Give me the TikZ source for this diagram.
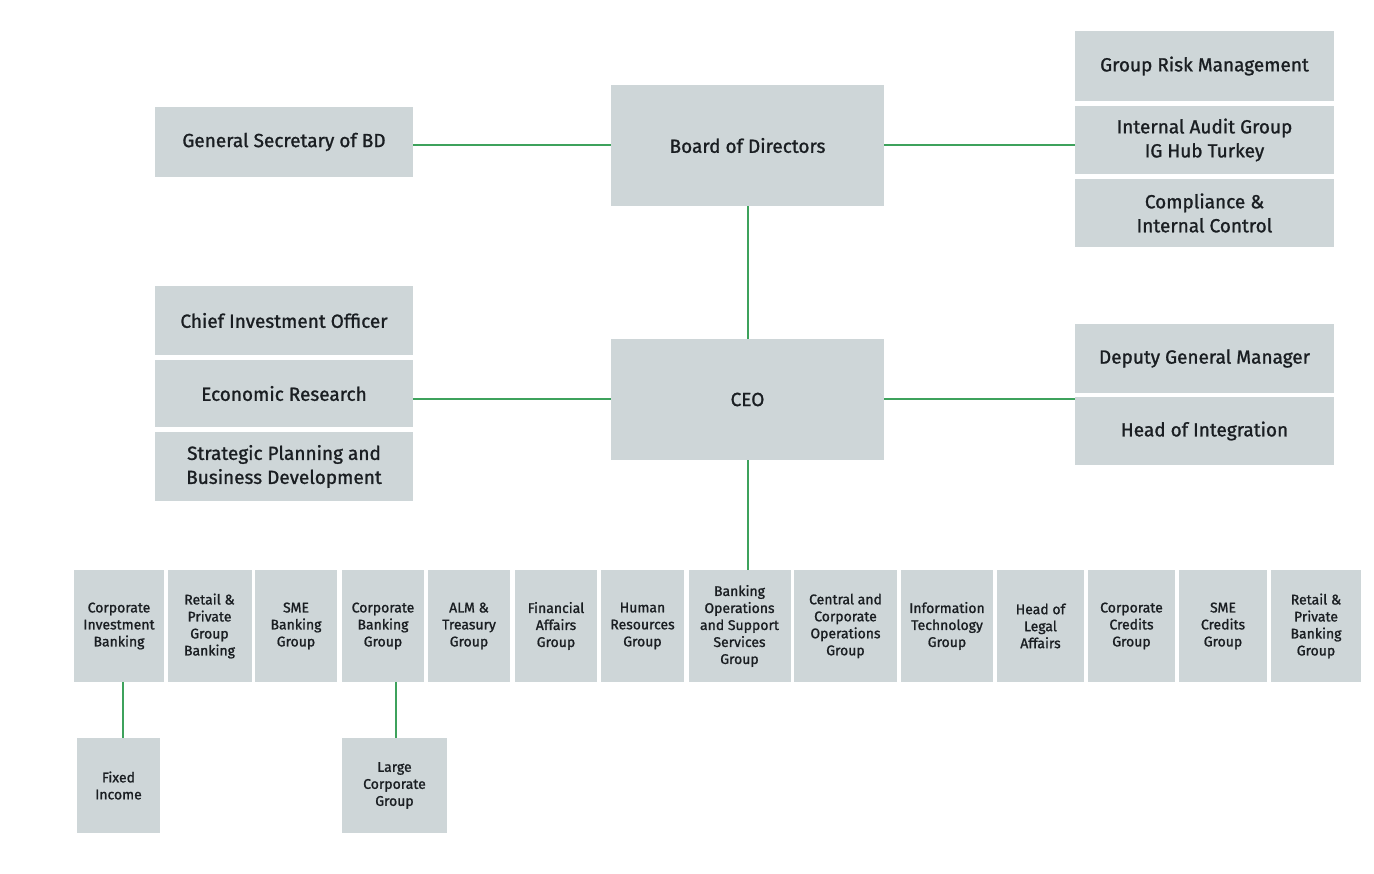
\documentclass[tikz,border=0pt]{standalone}
\usepackage{fontspec}
\setmainfont{Fira Sans}[UprightFeatures={FakeBold=1.2}]
\usepackage{tikz}

\definecolor{boxgrey}{RGB}{206,214,216}
\definecolor{linkgreen}{RGB}{62,162,92}
\definecolor{textdark}{RGB}{26,30,34}

\tikzset{
  unit/.style={fill=boxgrey, text=textdark, align=center, inner sep=0pt, font=\fontsize{19}{24}\selectfont},
  smallunit/.style={fill=boxgrey, text=textdark, align=center, inner sep=0pt, font=\fontsize{14}{17}\selectfont},
  link/.style={draw=linkgreen, line width=2pt}
}

\begin{document}
\begin{tikzpicture}[x=1pt,y=1pt,yscale=-1,xscale=1]
\useasboundingbox (0,0) rectangle (1374,874);

%Top level
\node [unit, minimum width=273, minimum height=121] (bod) at (747.5,145.5) {Board of Directors};
\node [unit, minimum width=258, minimum height=70] (gensec) at (284,142) {General Secretary of BD};
\node [unit, minimum width=259, minimum height=70] (risk) at (1204.5,66) {Group Risk Management};
\node [unit, minimum width=259, minimum height=68] (audit) at (1204.5,140) {Internal Audit Group\\IG Hub Turkey};
\node [unit, minimum width=259, minimum height=68] (compl) at (1204.5,213) {Compliance \&\\Internal Control};

%CEO level
\node [unit, minimum width=273, minimum height=121] (ceo) at (747.5,399.5) {CEO};
\node [unit, minimum width=258, minimum height=69] (cio) at (284,320.5) {Chief Investment Officer};
\node [unit, minimum width=258, minimum height=67] (econ) at (284,393.5) {Economic Research};
\node [unit, minimum width=258, minimum height=69] (strat) at (284,466.5) {Strategic Planning and\\Business Development};
\node [unit, minimum width=259, minimum height=69] (deputy) at (1204.5,358.5) {Deputy General Manager};
\node [unit, minimum width=259, minimum height=68] (integr) at (1204.5,431) {Head of Integration};

%Groups
\node [smallunit, minimum width=90, minimum height=112] (cib) at (119,626) {Corporate\\Investment\\Banking};
\node [smallunit, minimum width=84, minimum height=112] (rpgb) at (209.5,626) {Retail \&\\Private\\Group\\Banking};
\node [smallunit, minimum width=82, minimum height=112] (smebg) at (296,626) {SME\\Banking\\Group};
\node [smallunit, minimum width=82, minimum height=112] (cbg) at (383,626) {Corporate\\Banking\\Group};
\node [smallunit, minimum width=82, minimum height=112] (alm) at (469,626) {ALM \&\\Treasury\\Group};
\node [smallunit, minimum width=82, minimum height=112] (fin) at (556,626) {Financial\\Affairs\\Group};
\node [smallunit, minimum width=83, minimum height=112] (hr) at (642.5,626) {Human\\Resources\\Group};
\node [smallunit, minimum width=102, minimum height=112] (bankops) at (739.5,626) {Banking\\Operations\\and Support\\Services\\Group};
\node [smallunit, minimum width=103, minimum height=112] (central) at (845.5,626) {Central and\\Corporate\\Operations\\Group};
\node [smallunit, minimum width=92, minimum height=112] (it) at (947,626) {Information\\Technology\\Group};
\node [smallunit, minimum width=87, minimum height=112] (legal) at (1040.5,626) {Head of\\Legal\\Affairs};
\node [smallunit, minimum width=87, minimum height=112] (ccg) at (1131.5,626) {Corporate\\Credits\\Group};
\node [smallunit, minimum width=88, minimum height=112] (smecg) at (1223,626) {SME\\Credits\\Group};
\node [smallunit, minimum width=90, minimum height=112] (rpbg) at (1316,626) {Retail \&\\Private\\Banking\\Group};

%Sub groups
\node [smallunit, minimum width=83, minimum height=95] (fixed) at (118.5,785.5) {Fixed\\Income};
\node [smallunit, minimum width=105, minimum height=95] (lcg) at (394.5,785.5) {Large\\Corporate\\Group};

%Straight Lines
\draw [link] (bod.west) -- (bod.west -| gensec.east);
\draw [link] (bod.east) -- (bod.east -| audit.west);
\draw [link] (bod.south) -- (ceo.north);
\draw [link] (ceo.west) -- (ceo.west -| econ.east);
\draw [link] (ceo.east) -- (ceo.east -| deputy.west);
\draw [link] (ceo.south) -- (ceo.south |- bankops.north);
\draw [link] (fixed.north -| 123,0) -- (cib.south -| 123,0);
\draw [link] (lcg.north -| 396,0) -- (cbg.south -| 396,0);

\end{tikzpicture}
\end{document}
